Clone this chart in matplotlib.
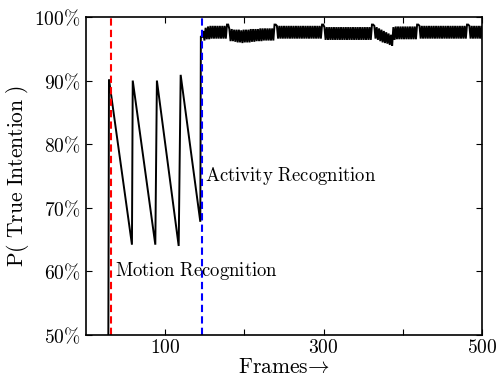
import matplotlib
matplotlib.use("Agg")
import matplotlib.pyplot as plt
import numpy as np

plt.rcParams['mathtext.fontset'] = 'cm'
plt.rcParams['font.family'] = 'serif'
plt.rcParams['font.serif'] = ['DejaVu Serif']

# ---- data ----
# motion-recognition phase: sawtooth (frame, probability %)
saw_frames = [28, 29, 58, 59, 87.5, 89.5, 117, 119.5, 144.3, 145, 147]
saw_values = [40, 90.2, 64.2, 90.0, 64.2, 90.0, 64.0, 90.9, 67.8, 97.0, 96.8]

# activity-recognition phase: oscillation teeth every 3 frames from frame 148
tooth_start = 148
tooth_step = 3
tooth_peaks = ([97.8, 98.3, 98.5, 98.6, 98.6, 98.6, 98.6, 98.6, 98.6, 98.6]
               + [98.8]
               + [98.1, 98.1, 98.0, 98.0, 98.0, 97.9, 98.0, 98.0, 98.0, 98.1,
                  98.1, 98.1, 98.1, 98.2, 98.2, 98.2, 98.2, 98.2, 98.2]
               + [98.8]
               + [98.6] * 19
               + [98.8]
               + [98.4] * 20
               + [98.8]
               + [98.6, 98.4, 98.2, 98.0, 97.8, 97.6, 97.4, 97.2,
                  98.4, 98.5, 98.5, 98.5, 98.5, 98.5, 98.5, 98.5, 98.5, 98.5]
               + [98.8]
               + [98.6] * 20
               + [98.8]
               + [98.6] * 6)
tooth_troughs = ([96.3, 96.5, 96.5, 96.6, 96.6, 96.6, 96.6, 96.6, 96.6, 96.6]
                 + [98.8]
                 + [96.2, 96.2, 96.1, 96.0, 96.0, 95.9, 96.0, 96.0, 96.0, 96.1,
                    96.1, 96.2, 96.2, 96.2, 96.3, 96.3, 96.3, 96.3, 96.3]
                 + [98.8]
                 + [96.6] * 19
                 + [98.8]
                 + [96.4] * 20
                 + [98.8]
                 + [96.6, 96.4, 96.2, 96.0, 95.9, 95.8, 95.6, 95.5,
                    96.4, 96.5, 96.5, 96.5, 96.5, 96.5, 96.5, 96.5, 96.5, 96.5]
                 + [98.8]
                 + [96.6] * 20
                 + [98.8]
                 + [96.6] * 6)

motion_frame = 31
activity_frame = 147

yticks = [50, 60, 70, 80, 90, 100]
xticks = [100, 200, 300, 400, 500]
xticklabels = ['100', '', '300', '', '500']

# ---- build line ----
x = list(saw_frames)
y = list(saw_values)
for k, (p, t) in enumerate(zip(tooth_peaks, tooth_troughs)):
    f = tooth_start + k * tooth_step
    x += [f, f + 1.5]
    y += [p, t]

fig = plt.figure(figsize=(4.98, 3.77), dpi=100)
ax = fig.add_axes([0.1727, 0.1114, 0.7953, 0.8436])

ax.plot(x, y, color='black', lw=1.4, solid_joinstyle='miter')
ax.axvline(motion_frame, color='red', ls=(0, (3.5, 2)), lw=1.5)
ax.axvline(activity_frame, color='blue', ls=(0, (3.5, 2)), lw=1.5)

ax.set_xlim(0, 500)
ax.set_ylim(50, 100)
ax.set_xticks(xticks)
ax.set_xticklabels([r'$\mathrm{%s}$' % s if s else '' for s in xticklabels])
ax.set_yticks(yticks)
ax.set_yticklabels([r'$%d\%%$' % v for v in yticks])
ax.tick_params(direction='in', top=True, right=True, length=4, width=0.8,
               labelsize=14, pad=4)
ax.tick_params(axis='x', pad=3)
for s in ax.spines.values():
    s.set_linewidth(1.2)

ax.set_xlabel(r'$\mathrm{Frames}\!\rightarrow$', fontsize=15.5, labelpad=-1.2)
ax.set_ylabel(r'$\mathrm{P(\ True\ Intention\ )}$', fontsize=15.5, labelpad=2)

ax.text(36.5, 60.1, r'$\mathrm{Motion\ Recognition}$', fontsize=13.5,
        va='center', ha='left')
ax.text(150, 75.0, r'$\mathrm{Activity\ Recognition}$', fontsize=13.5,
        va='center', ha='left')

fig.savefig('out.png', dpi=100)
